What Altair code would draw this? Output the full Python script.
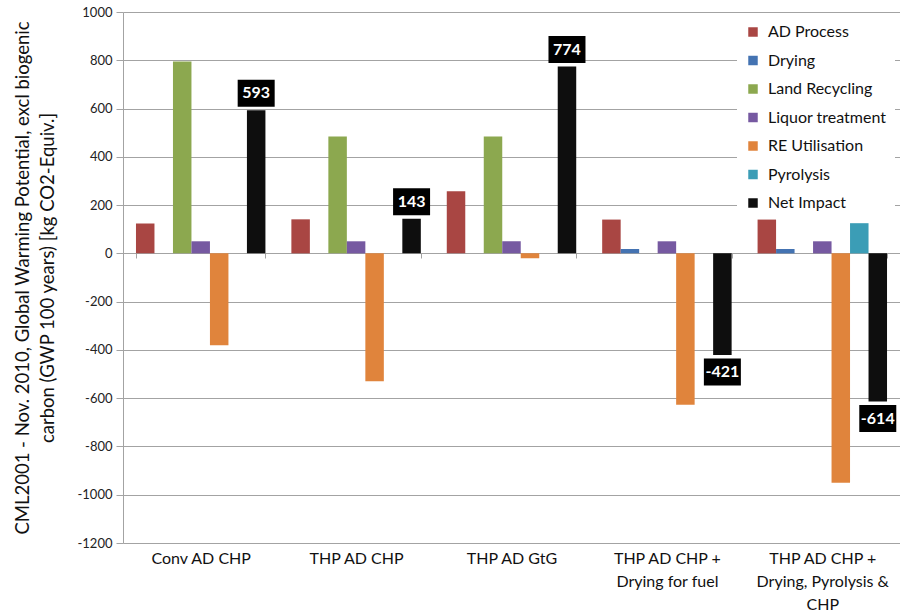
import altair as alt
import pandas as pd

# Categories (x groups); '|' marks a line break in the axis label
categories = [
    "Conv AD CHP",
    "THP AD CHP",
    "THP AD GtG",
    "THP AD CHP +|Drying for fuel",
    "THP AD CHP +|Drying, Pyrolysis &|CHP",
]

series = ["AD Process", "Drying", "Land Recycling", "Liquor treatment",
          "RE Utilisation", "Pyrolysis", "Net Impact"]
colors = ["#A94643", "#4473B2", "#8CA84F", "#7659A1", "#E0843C", "#3B9DB6", "#0E0E0E"]

ad_process = [124, 141, 257, 140, 140]
drying = [0, 0, 0, 18, 18]
land_recycling = [795, 484, 484, 0, 0]
liquor_treatment = [50, 50, 50, 50, 50]
re_utilisation = [-381, -530, -20, -627, -950]
pyrolysis = [0, 0, 0, 0, 125]
net_impact = [593, 143, 774, -421, -614]

y_ticks = [-1200, -1000, -800, -600, -400, -200, 0, 200, 400, 600, 800, 1000]

series_values = [ad_process, drying, land_recycling, liquor_treatment,
                 re_utilisation, pyrolysis, net_impact]

rows = []
for s, vals in zip(series, series_values):
    for c, v in zip(categories, vals):
        if v != 0:
            rows.append({"Category": c, "Series": s, "Value": v})
df = pd.DataFrame(rows)

FONT = "Lato, 'Open Sans', sans-serif"
GRID = "#a3a3a3"

x_enc = alt.X(
    "Category:N", sort=categories,
    scale=alt.Scale(paddingInner=0.167, paddingOuter=0.0835),
    axis=alt.Axis(
        title=None, orient="bottom", offset=-290, domain=True, domainColor=GRID,
        ticks=True, tickBand="extent", tickSize=5, tickColor=GRID,
        labelPadding=292, labelAngle=0, labelFont=FONT, labelFontSize=16,
        labelColor="#111", labelLineHeight=23, labelBaseline="top",
        labelExpr="split(datum.label, '|')", labelLimit=0, grid=False,
    ),
)
xoff_enc = alt.XOffset("Series:N", sort=series,
                       scale=alt.Scale(domain=series, paddingInner=0, paddingOuter=0))
y_enc = alt.Y(
    "Value:Q",
    scale=alt.Scale(domain=[-1200, 1000], nice=False, zero=False),
    axis=alt.Axis(
        values=y_ticks, grid=True, gridColor=GRID,
        domain=True, domainColor=GRID, tickColor=GRID, tickSize=7,
        labelFont=FONT, labelFontSize=13, labelColor="#222", labelPadding=4,
        labelExpr="'' + datum.value",
        title=["CML2001  - Nov. 2010,  Global Warming Potential, excl biogenic",
               "carbon (GWP 100 years) [kg CO2-Equiv.]"],
        titleFont=FONT, titleFontSize=18.5, titleFontWeight="normal",
        titleColor="#111", titlePadding=20, titleLineHeight=25,
    ),
)

base = alt.Chart(df)

bars = base.mark_bar().encode(
    x=x_enc, xOffset=xoff_enc, y=y_enc,
    color=alt.Color(
        "Series:N", scale=alt.Scale(domain=series, range=colors),
        legend=alt.Legend(
            title=None, orient="none", legendX=614, legendY=4,
            fillColor="white", padding=8, labelFont=FONT, labelFontSize=16,
            labelColor="#111", symbolType="square", symbolSize=90,
            symbolStrokeWidth=0, rowPadding=12.5, labelOffset=7,
        ),
    ),
)

box_shape = "M-1,-0.73L1,-0.73L1,0.73L-1,0.73Z"
net = base.transform_filter(alt.datum.Series == "Net Impact").transform_calculate(
    Label="'' + datum.Value")
pos = net.transform_filter(alt.datum.Value > 0)
neg = net.transform_filter(alt.datum.Value < 0)

def labels(src, dy):
    box = src.mark_point(shape=box_shape, size=1369, filled=True, color="black",
                         opacity=1, yOffset=dy).encode(x=x_enc, xOffset=xoff_enc, y=y_enc)
    txt = src.mark_text(color="white", fontWeight="bold", fontSize=16, font=FONT,
                        baseline="middle", yOffset=dy).encode(
        x=x_enc, xOffset=xoff_enc, y=y_enc, text=alt.Text("Label:N"))
    return box + txt

chart = alt.layer(bars, labels(pos, -17), labels(neg, 17)).properties(
    width=777, height=531,
    padding={"left": 123, "top": 12, "right": 0, "bottom": 71},
    autosize=alt.AutoSizeParams(type="none"),
    background="white",
).configure_view(stroke=None)

chart.save("out.html", embed_options={"renderer": "svg", "actions": False})
